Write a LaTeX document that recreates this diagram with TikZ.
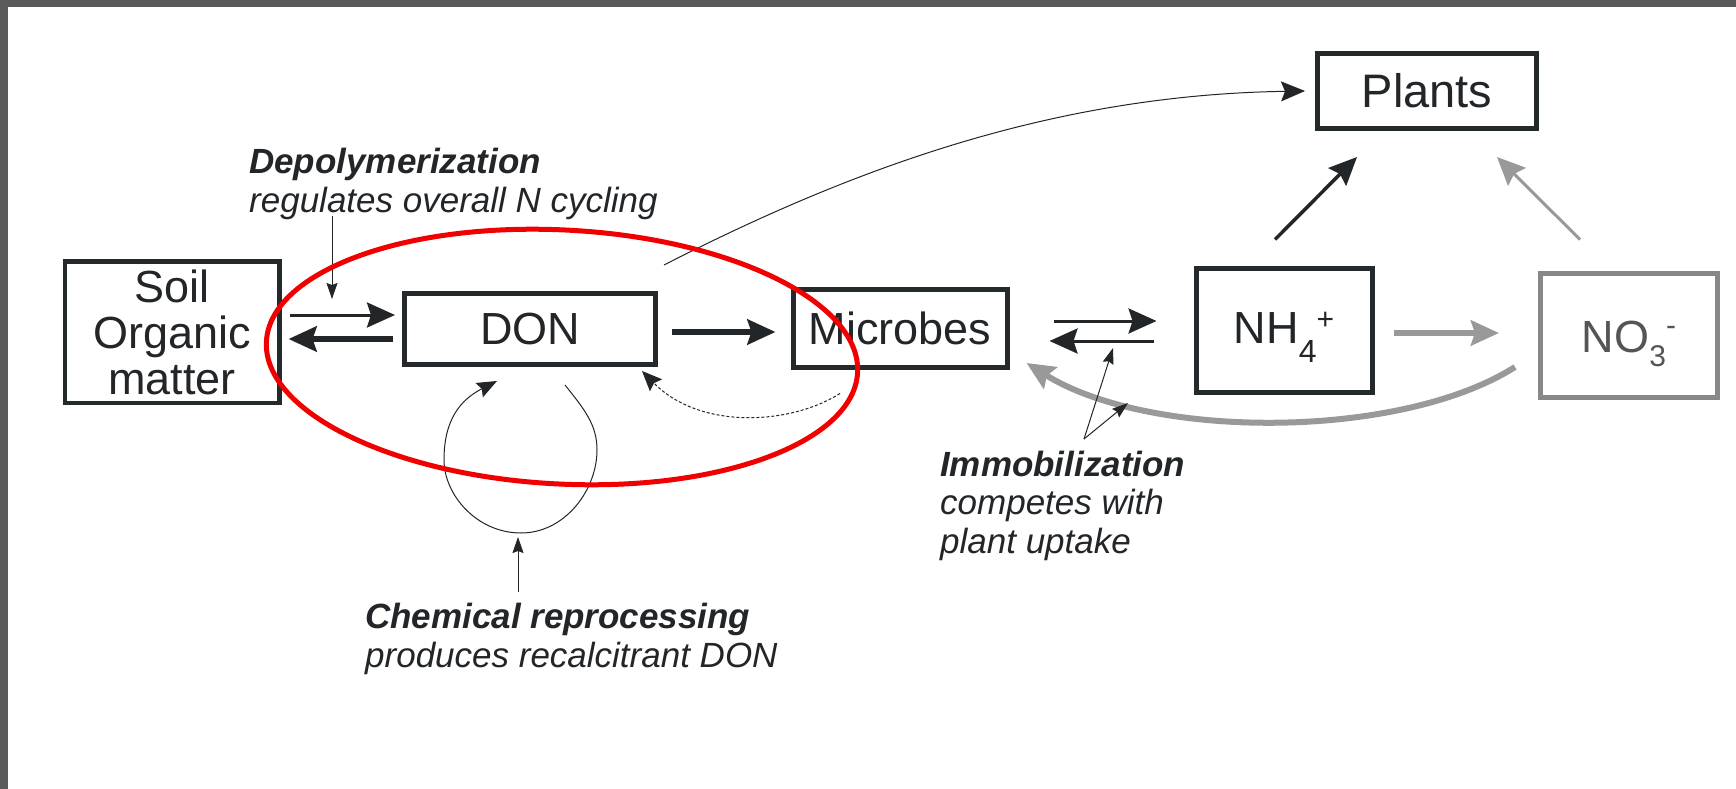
\documentclass[tikz,border=0pt]{standalone}
\usepackage{fontspec}
\setmainfont{Liberation Sans}
\usetikzlibrary{arrows.meta}
\definecolor{ink}{HTML}{222629}
\definecolor{boxline}{HTML}{24292B}
\definecolor{lgray}{HTML}{999999}
\definecolor{ngray}{HTML}{888888}
\definecolor{ntext}{HTML}{555555}
\definecolor{framegray}{HTML}{5A5A5A}
\definecolor{ered}{HTML}{F00000}
\begin{document}
\begin{tikzpicture}[x=1pt,y=-1pt,
  box/.style={draw=boxline, line width=5pt, inner sep=0pt, text=ink,
    font=\fontsize{45}{46}\selectfont, align=center},
  note/.style={anchor=base west, align=left, inner sep=0pt, text=ink,
    font=\fontsize{35}{38.5}\selectfont\itshape},
  bighead/.style={-{Stealth[length=28pt,width=25pt,inset=4pt]}},
  midhead/.style={-{Stealth[length=24pt,width=20pt,inset=4pt]}},
  smallhead/.style={-{Stealth[length=16pt,width=11pt,inset=2pt]}},
  flow/.style={draw=ink, bighead},
  grayflow/.style={draw=lgray, bighead},
  pointer/.style={draw=ink, line width=1pt, smallhead},
]
\useasboundingbox (0,0) rectangle (1736,789);
\fill[white] (0,0) rectangle (1736,789);
\fill[framegray] (0,0) rectangle (1736,7);
\fill[framegray] (0,0) rectangle (8,789);

% boxes
\node[box, line width=4.5pt, minimum width=214.5pt, minimum height=141.5pt] (soil) at (172,332) {Soil\\Organic\\matter};
\node[box, minimum width=251pt, minimum height=71pt] (don) at (530,329) {DON};
\node[box, minimum width=214pt, minimum height=78pt] (mic) at (900,328) {Microbes};
\node[box, minimum width=176pt, minimum height=124pt, text height=33pt, text depth=7pt] (nh4) at (1284,330)
  {NH\raisebox{-0.44em}{\fontsize{32}{32}\selectfont 4}\raisebox{0.3em}{\fontsize{30}{30}\selectfont +}};
\node[box, draw=ngray, text=ntext, minimum width=177pt, minimum height=124pt, text height=34pt, text depth=0pt] (no3) at (1629,335)
  {NO\raisebox{-0.33em}{\fontsize{30}{30}\selectfont 3}\raisebox{0.37em}{\fontsize{30}{30}\selectfont -}};
\node[box, font=\fontsize{47}{48}\selectfont, minimum width=219pt, minimum height=75pt] (plants) at (1427,91) {Plants};

% annotations (anchored at the baseline of the last line)
\node[note] (depol) at (249,212) {\textbf{Depolymerization}\\regulates overall N cycling};
\node[note] (chem) at (365,667) {\textbf{Chemical reprocessing}\\produces recalcitrant DON};
\node[note] (immob) at (940,553) {\textbf{Immobilization}\\competes with\\plant uptake};

% SOM <-> DON
\draw[flow, line width=3pt] ([shift={(8pt,17pt)}]soil.east) -- ([shift={(-7pt,14pt)}]don.west);
\draw[flow, line width=6pt] ([shift={(-9pt,-10pt)}]don.west) -- ([shift={(7pt,-7pt)}]soil.east);
% DON -> Microbes
\draw[flow, line width=6pt] ([shift={(14pt,-3pt)}]don.east) -- ([shift={(-15pt,-4pt)}]mic.west);
% Microbes <-> NH4
\draw[flow, line width=3pt] ([shift={(44pt,7pt)}]mic.east) -- ([shift={(-37pt,9pt)}]nh4.west);
\draw[flow, line width=3pt] ([shift={(-40pt,-11pt)}]nh4.west) -- ([shift={(40pt,-13pt)}]mic.east);
% NH4 -> NO3
\draw[grayflow, line width=6pt] ([shift={(19pt,-3pt)}]nh4.east) -- ([shift={(-39pt,2pt)}]no3.west);
% NO3 -> Microbes
\draw[grayflow, line width=6pt] ([shift={(-23pt,-32pt)}]no3.west) .. controls (1400,440) and (1150,440) .. ([shift={(17pt,-35pt)}]mic.east);
% to Plants
\draw[flow, line width=3.5pt] ([shift={(-9pt,26pt)}]nh4.north) -- ([shift={(-70pt,-26pt)}]plants.south);
\draw[grayflow, line width=3pt] ([shift={(-49pt,31pt)}]no3.north) -- ([shift={(70pt,-26pt)}]plants.south);
\draw[draw=ink, line width=1pt, midhead] ([shift={(134pt,26pt)}]don.north) .. controls (850,170) and (1050,95) .. ([shift={(-10pt,0pt)}]plants.west);

% Microbes -> DON dotted
\draw[draw=ink, line width=1pt, densely dashed, -{Stealth[length=20pt,width=17pt,inset=3pt]}]
  ([shift={(-60pt,-24pt)}]mic.south) .. controls (790,425) and (700,430) .. ([shift={(112pt,-4pt)}]don.south);

% chemical reprocessing loop
\draw[draw=ink, line width=1pt, -{Stealth[length=20pt,width=16pt,inset=3pt]}]
  ([shift={(35pt,-18pt)}]don.south) .. controls (585,410) and (597,425) .. (597,450)
  .. controls (597,490) and (565,533) .. (521,533)
  .. controls (477,533) and (444,495) .. (444,460)
  .. controls (444,420) and (460,400) .. ([shift={(-33pt,-14pt)}]don.south);

% pointers
\coordinate (dpA) at (332,216);
\coordinate (dpB) at (332,299);
\draw[pointer] (dpA) -- (dpB);
\coordinate (cpA) at (518,592);
\coordinate (cpB) at (518,537);
\draw[pointer] (cpA) -- (cpB);
\coordinate (ipA) at (1084,439);
\coordinate (ipB) at (1113,348);
\coordinate (ipC) at (1128,403);
\draw[pointer] (ipA) -- (ipB);
\draw[pointer] (ipA) -- (ipC);

% red ellipse
\draw[ered, line width=5pt, rotate around={-3:(562,357)}] (562,357) ellipse [x radius=296pt, y radius=127pt];
\end{tikzpicture}
\end{document}
